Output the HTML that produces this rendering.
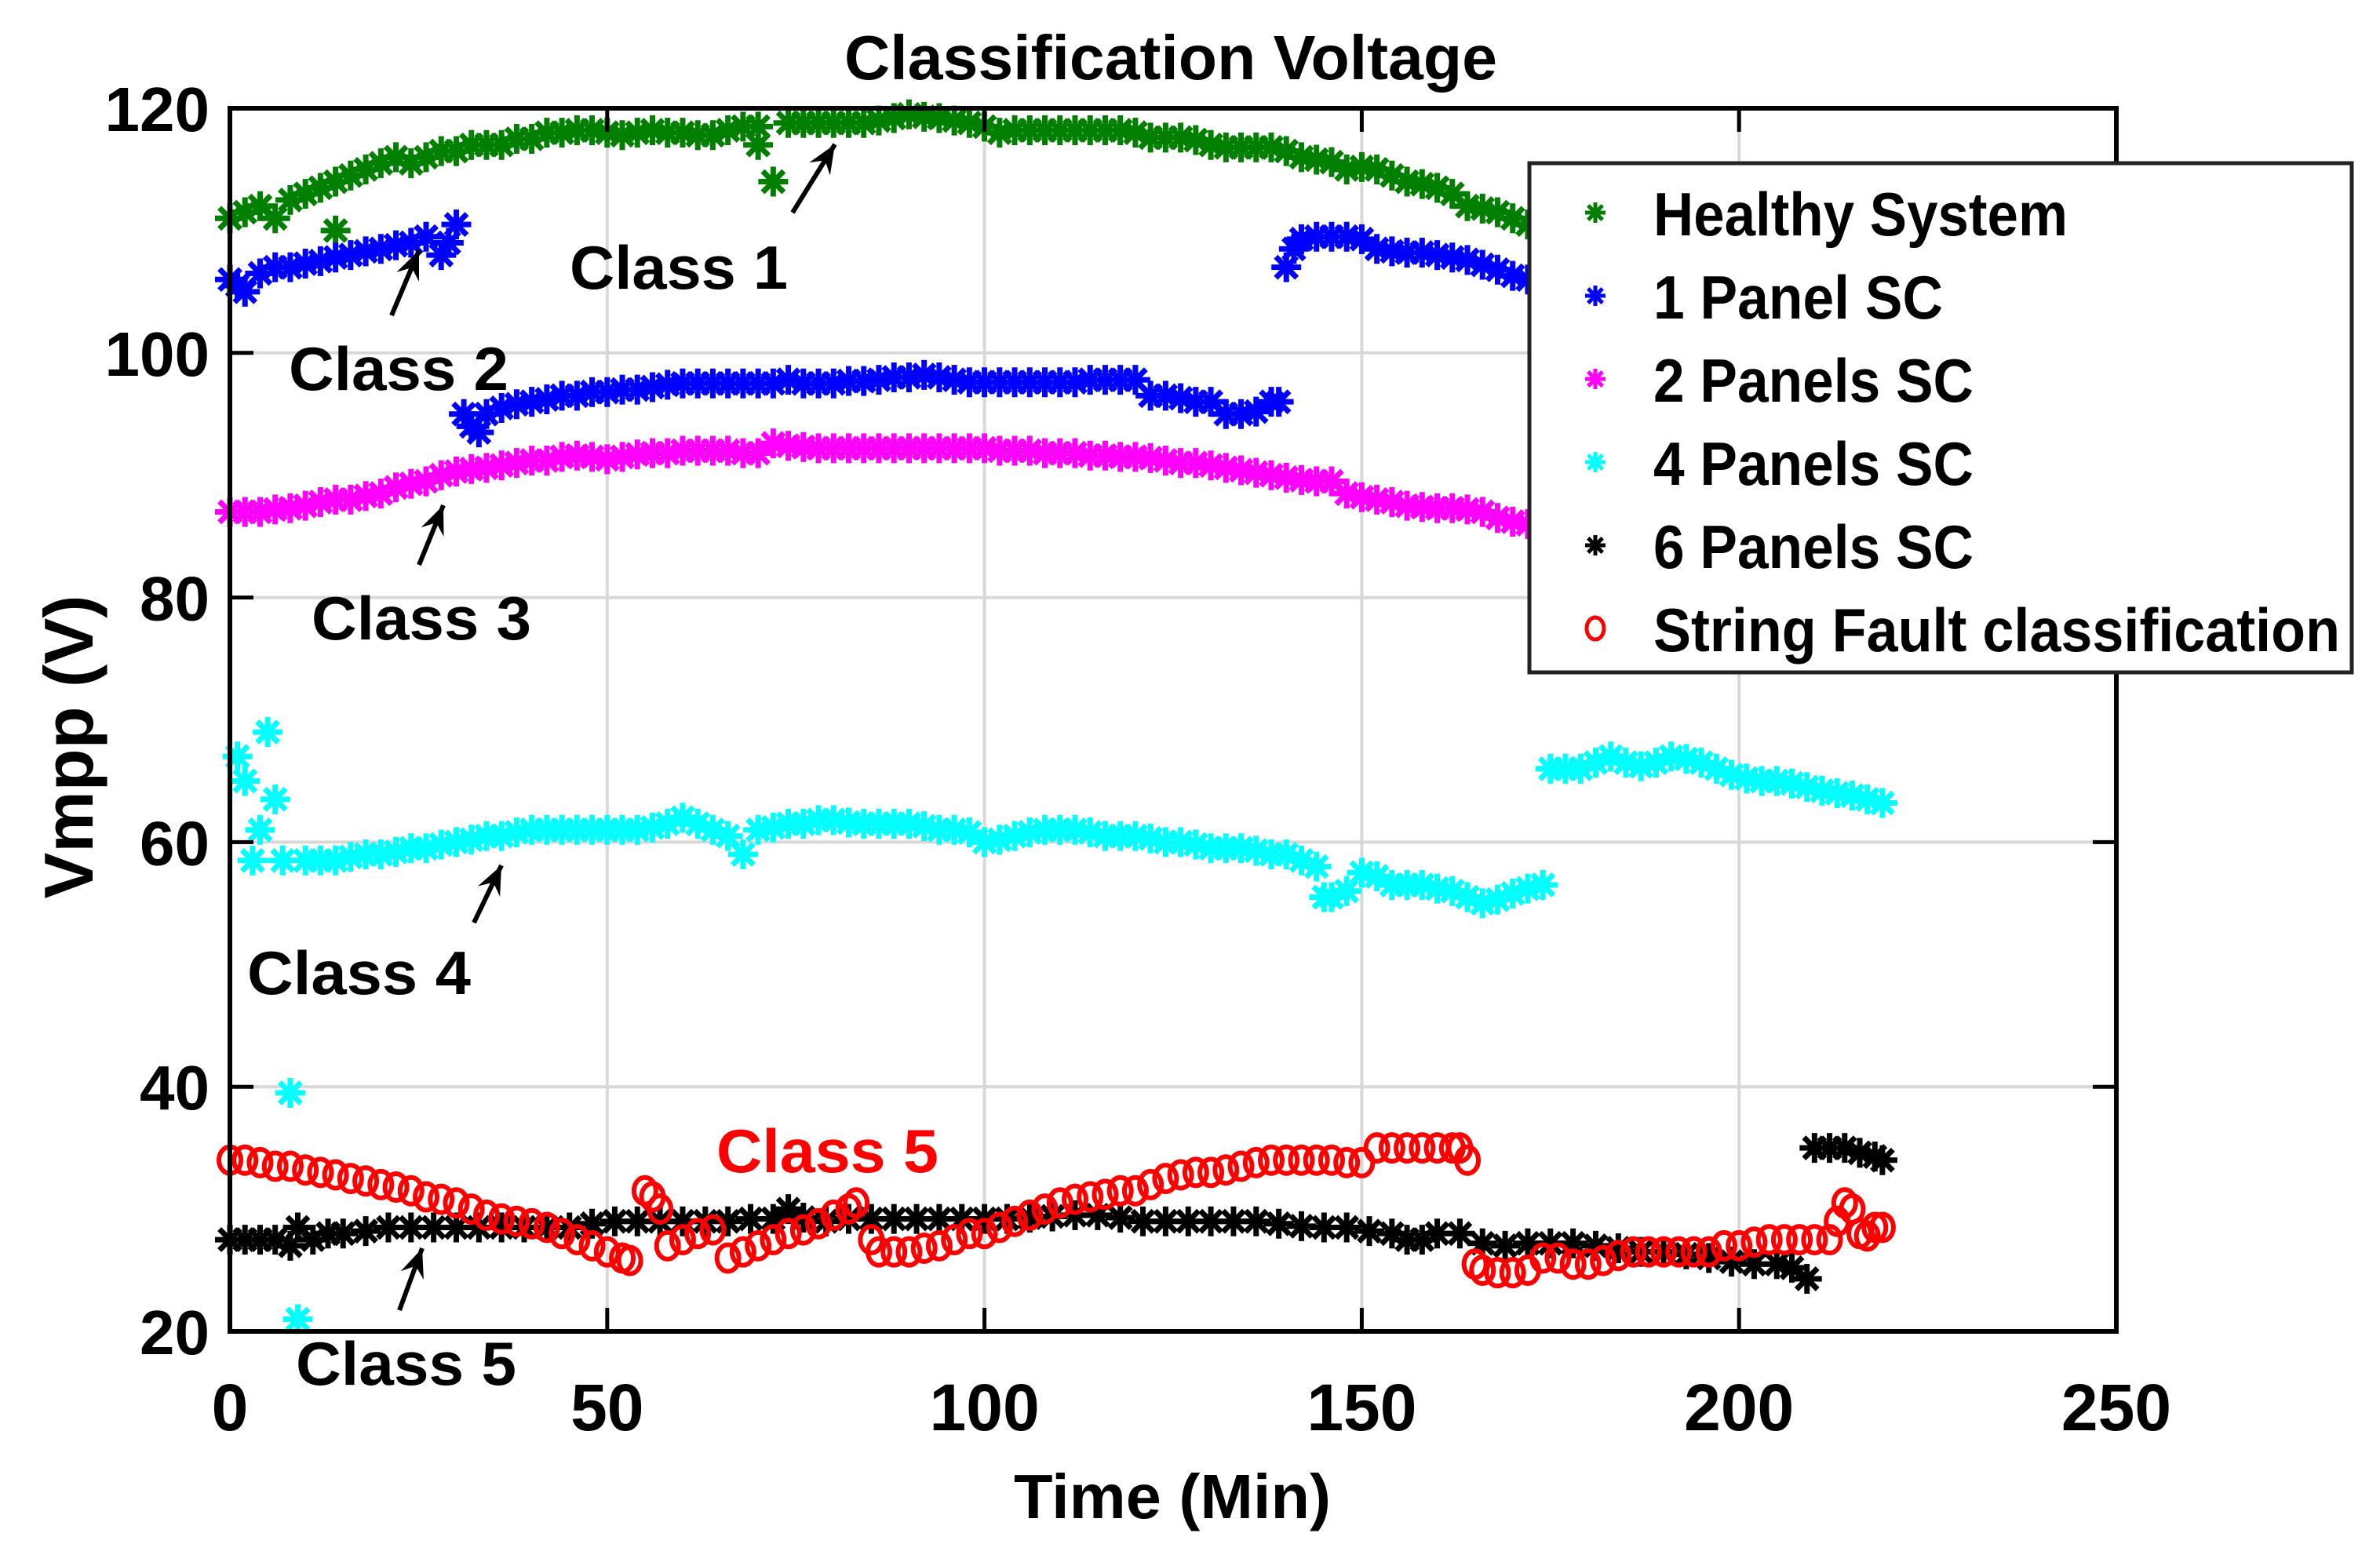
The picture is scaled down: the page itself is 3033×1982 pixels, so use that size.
<!DOCTYPE html>
<html><head><meta charset="utf-8"><style>
html,body{margin:0;padding:0;background:#fff;}
svg{display:block;font-family:"Liberation Sans",Arial,sans-serif;font-weight:bold;}
</style></head><body>
<svg id="chart" width="3033" height="1982" viewBox="0 0 3033 1982">
<g id="grid"></g>
<g id="series"></g>
<rect x="293" y="138" width="2404" height="1559" fill="none" stroke="#000" stroke-width="6"/>
<g id="ticks"></g>
<text x="1492" y="101" font-size="80" text-anchor="middle" textLength="832" lengthAdjust="spacingAndGlyphs">Classification Voltage</text>
<text x="1494" y="1935" font-size="80" text-anchor="middle" textLength="404" lengthAdjust="spacingAndGlyphs">Time (Min)</text>
<text transform="translate(118,952) rotate(-90)" font-size="88" text-anchor="middle" textLength="387" lengthAdjust="spacingAndGlyphs">Vmpp (V)</text>
<g id="annot">
<text x="726" y="368" font-size="78" textLength="278" lengthAdjust="spacingAndGlyphs">Class 1</text>
<text x="368" y="497" font-size="78" textLength="280" lengthAdjust="spacingAndGlyphs">Class 2</text>
<text x="397" y="815" font-size="78" textLength="280" lengthAdjust="spacingAndGlyphs">Class 3</text>
<text x="315" y="1267" font-size="78" textLength="285" lengthAdjust="spacingAndGlyphs">Class 4</text>
<text x="913" y="1494" font-size="78" fill="#ff0000" textLength="283" lengthAdjust="spacingAndGlyphs">Class 5</text>
<text x="377" y="1765" font-size="78" textLength="281" lengthAdjust="spacingAndGlyphs">Class 5</text>
</g>
<g id="legend">
<rect x="1949" y="208" width="1048" height="649" fill="#fff" stroke="#222" stroke-width="5"/>
</g>
</svg>
<script>
const NS='http://www.w3.org/2000/svg';
const X0=293,X1=2697,Y0=1697,Y1=138;
const xs=t=>X0+(t/250)*(X1-X0);
const ys=v=>Y0-((v-20)/100)*(Y0-Y1);
const xTicks=[0,50,100,150,200,250];
const yTicks=[20,40,60,80,100,120];

const healthyT=[0,2,4,6,8,10,12,14,16,18,20,22,24,26,28,30,32,34,36,38,40,42,44,46,48,50,52,54,56,58,60,62,64,66,68,70,74,76,78,80,82,84,86,88,90,92,94,96,98,100,102,104,106,108,110,112,114,116,118,120,122,124,126,128,130,132,134,136,138,140,142,144,146,148,150,152,154,156,158,160,162,164,166,168,170,172,174,14,70,72];
const healthyV=[111,111.5,112,111,112.5,113,113.5,114,114.5,115,115.5,116,115.5,116,116.5,116.5,117,117,117,117.5,117.5,118,118,118.2,118.2,118,117.8,118,118.2,118,118,117.8,117.8,118.2,118.5,118.5,118.8,118.8,118.8,118.8,118.8,118.8,119,119.2,119.5,119.3,119.2,119,118.8,118.5,118,118.2,118.2,118.2,118.2,118.2,118.2,118.2,118.2,118,117.6,117.6,117.6,117.4,117,116.8,116.8,116.8,116.8,116.5,116,115.8,115.6,115,115.2,115,114.5,114,113.8,113.5,113,112,111.8,111.5,111,110.5,110,110,117,114];
const panel1T=[0,1,2,4,6,8,10,12,14,16,18,20,22,24,26,28,29,30,31,32,33,34,36,38,40,42,44,46,48,50,52,54,56,58,60,62,64,66,68,70,72,74,76,78,80,82,84,86,88,90,92,94,96,98,100,102,104,106,108,110,112,114,116,118,120,122,124,126,128,130,132,134,136,138,139,140,141,142,144,146,148,150,152,154,156,158,160,162,164,166,168,170,172,174];
const panel1V=[106,105.5,105,106.5,107,107,107.3,107.5,107.8,108,108.3,108.5,108.8,109,109.5,108,109,110.5,95,94,93.5,95,95.5,95.8,96,96.2,96.5,96.5,96.8,96.8,97,97,97.2,97.4,97.5,97.5,97.5,97.5,97.5,97.5,97.5,97.8,97.5,97.5,97.5,97.7,97.7,97.8,98,98,98.2,98,97.8,97.6,97.6,97.6,97.6,97.6,97.6,97.6,97.6,97.8,97.8,97.8,97.8,96.5,96.5,96.3,96,96,95,95,95.2,96,96,107,108.5,109.3,109.5,109.5,109.5,109.3,108.5,108.3,108.2,108.2,108,107.8,107.6,107.2,106.8,106.3,106,105.5];
const panel2T=[0,2,4,6,8,10,12,14,16,18,20,22,24,26,28,30,32,34,36,38,40,42,44,46,48,50,52,54,56,58,60,62,64,66,68,70,72,74,76,78,80,82,84,86,88,90,92,94,96,98,100,102,104,106,108,110,112,114,116,118,120,122,124,126,128,130,132,134,136,138,140,142,144,146,148,150,152,154,156,158,160,162,164,166,168,170,172,174];
const panel2V=[87,87,87,87.2,87.3,87.5,87.8,88,88,88.3,88.5,89,89.3,89.5,90,90.3,90.5,90.6,90.8,91,91.2,91.2,91.5,91.6,91.5,91.3,91.5,91.7,91.8,91.8,92,92,92,92,91.8,91.8,92.6,92.4,92.3,92.2,92.2,92.2,92.2,92.2,92.2,92.2,92.2,92.2,92.2,92.2,92.2,92,92,92,91.8,91.8,91.8,91.6,91.6,91.5,91.5,91.4,91.2,91,91,90.8,90.6,90.4,90.2,90,89.8,89.6,89.5,89.5,88.5,88.2,88,87.8,87.5,87.4,87.3,87.3,87.2,87,86.5,86.2,86,86];
const panel4T=[1,2,3,4,5,6,7,8,9,10,12,14,16,18,20,22,24,26,28,30,32,34,36,38,40,42,44,46,48,50,52,54,56,58,60,62,64,66,68,70,72,74,76,78,80,82,84,86,88,90,92,94,96,98,100,102,104,106,108,110,112,114,116,118,120,122,124,126,128,130,132,134,136,138,140,142,144,145,146,148,150,152,154,156,158,160,162,164,166,168,170,172,174,175,177,179,181,183,185,187,189,191,193,195,197,199,201,203,205,207,209,211,213,215,217,219];
const panel4V=[67,65,58.5,61,69,63.5,58.5,39.5,21,58.5,58.5,58.5,58.8,59,59,59.2,59.5,59.5,59.8,60,60.2,60.5,60.5,60.8,61,61,61,61,61,61,61,61,61.2,61.5,62,61.5,61,60.5,59,61,61.2,61.5,61.5,61.8,61.8,61.6,61.5,61.5,61.5,61.5,61.3,61,61,60.8,60,60.2,60.5,60.8,61,61,61,60.8,60.5,60.5,60.5,60.3,60,60,59.8,59.5,59.5,59.5,59.3,59,59,58.5,58,55.5,55.5,56,57.5,57.2,56.5,56.5,56.5,56.2,56,55.5,55,55.3,55.8,56.2,56.5,66,66,66,66.5,67,66.5,66.2,66.5,67,66.8,66.5,66,65.5,65.2,65,65,64.8,64.5,64.2,64,63.8,63.5,63.2];
const panel6T=[0,2,4,6,8,9,11,13,15,18,21,24,27,30,33,36,39,42,45,48,51,54,57,60,63,66,69,72,74,76,79,82,85,88,91,94,97,100,103,106,109,112,115,118,121,124,127,130,133,136,139,142,145,148,151,154,156,158,160,163,166,169,172,175,178,181,184,187,190,193,196,199,202,205,207,209,210,212,214,216,218,219];
const panel6V=[27.5,27.5,27.5,27.5,27,28.5,27.5,28,28,28.2,28.5,28.5,28.5,28.5,28.5,28.5,28.5,28.5,28.5,28.8,29,29,29,29,29,29,29.2,29.2,30,29.3,29,29.2,29.2,29.2,29.2,29.2,29.2,29.2,29.2,29.3,29.4,29.5,29.5,29.3,29,29,29,29,29,29,28.8,28.6,28.5,28.5,28.2,28,27.5,27.5,28,28,27.2,27,27.2,27.2,27.2,27,26.8,26.5,26.5,26.3,26,25.7,25.5,25.5,25.2,24.3,35,35,35,34.6,34.3,34];
const stringT=[0,2,4,6,8,10,12,14,16,18,20,22,24,26,28,30,32,34,36,38,40,42,44,46,48,50,52,53,55,56,57,58,60,62,64,66,68,70,72,74,76,78,80,82,83,85,86,88,90,92,94,96,98,100,102,104,106,108,110,112,114,116,118,120,122,124,126,128,130,132,134,136,138,140,142,144,146,148,150,152,154,156,158,160,162,163,164,165,166,168,170,172,174,176,178,180,182,184,186,188,190,192,194,196,198,200,202,204,206,208,210,212,213,214,215,216,217,218,219];
const stringV=[34,34,33.8,33.5,33.5,33.2,33,32.8,32.5,32.3,32,31.8,31.5,31,30.8,30.5,30,29.5,29.2,29,28.8,28.5,28,27.5,27,26.5,26,25.8,31.5,31,30,27,27.5,28,28.3,26,26.5,27,27.5,28,28.3,28.8,29.5,30,30.5,27.5,26.5,26.5,26.5,26.8,27,27.5,28,28,28.5,29,29.5,30,30.5,30.8,31,31.2,31.5,31.5,32,32.5,32.8,33,33,33.2,33.5,33.8,34,34,34,34,34,33.8,33.8,35,35,35,35,35,35,35,34,25.5,25,24.8,24.8,25,26,26,25.5,25.5,25.8,26.2,26.5,26.5,26.5,26.5,26.5,26.5,27,27,27.3,27.5,27.5,27.5,27.5,27.5,29,30.5,30,28,27.8,28.5,28.5,28.5];

const chart=document.getElementById('chart');
const grid=document.getElementById('grid');
const ticks=document.getElementById('ticks');
const series=document.getElementById('series');
function mk(tag,attrs,parent){const e=document.createElementNS(NS,tag);for(const k in attrs)e.setAttribute(k,attrs[k]);parent.appendChild(e);return e;}

xTicks.forEach(t=>{
  const x=xs(t);
  if(t>0&&t<250){const g=mk('line',{x1:x,x2:x,y1:Y1,y2:Y0,stroke:'#d8d8d8','stroke-width':4},grid);
  
  }
  const a=mk('line',{x1:x,x2:x,y1:Y0,y2:Y0-30,stroke:'#000','stroke-width':5},ticks);
  
  
  const b=mk('line',{x1:x,x2:x,y1:Y1,y2:Y1+30,stroke:'#000','stroke-width':5},ticks);
  
  
  const l=mk('text',{x:x,y:1823,'font-size':84,'text-anchor':'middle'},ticks);
  l.textContent=String(t);
  
  
});
yTicks.forEach(v=>{
  const y=ys(v);
  if(v>20&&v<120){const g=mk('line',{x1:X0,x2:X1,y1:y,y2:y,stroke:'#d8d8d8','stroke-width':4},grid);
  
  }
  const a=mk('line',{x1:X0,x2:X0+30,y1:y,y2:y,stroke:'#000','stroke-width':5},ticks);
  
  
  const b=mk('line',{x1:X1,x2:X1-30,y1:y,y2:y,stroke:'#000','stroke-width':5},ticks);
  
  
  const l=mk('text',{x:267,y:y+29,'font-size':80,'text-anchor':'end'},ticks);
  l.textContent=String(v);
  
  
});

function star(cx,cy,r){const d=r*0.707;return `M${cx-r},${cy}H${cx+r}M${cx},${cy-r}V${cy+r}M${cx-d},${cy-d}L${cx+d},${cy+d}M${cx-d},${cy+d}L${cx+d},${cy-d}`;}
function drawStars(T,V,color,name){
  const g=mk('g',{},series);
  
  
  T.forEach((t,i)=>{
    const p=mk('path',{d:star(xs(t),ys(V[i]),19),stroke:color,'stroke-width':7,fill:'none'},g);
    
    
  });
}
function drawCircles(T,V,color,name){
  const g=mk('g',{},series);
  
  
  T.forEach((t,i)=>{
    const c=mk('ellipse',{cx:xs(t),cy:ys(V[i]),rx:14,ry:17,stroke:color,'stroke-width':6,fill:'none'},g);
    
    
  });
}
drawStars(healthyT,healthyV,'#007f00','healthy-system-series');
drawStars(panel1T,panel1V,'#0000ff','panel-1-sc-series');
drawStars(panel2T,panel2V,'#ff00ff','panels-2-sc-series');
drawStars(panel4T,panel4V,'#00ffff','panels-4-sc-series');
drawStars(panel6T,panel6V,'#000000','panels-6-sc-series');
drawCircles(stringT,stringV,'#ff0000','string-fault-series');

const annot=document.getElementById('annot');
const arrows=[[1010,271,1064,184],[499,402,534,319],[534,720,565,644],[604,1176,639,1103],[509,1670,538,1591]];
arrows.forEach(a=>{
  const [x1,y1,x2,y2]=a;
  const g=mk('g',{},annot);
  
  
  mk('line',{x1:x1,y1:y1,x2:x2,y2:y2,stroke:'#000','stroke-width':6},g);
  const ang=Math.atan2(y2-y1,x2-x1),L=40,w=0.4;
  const p1=[x2-L*Math.cos(ang-w),y2-L*Math.sin(ang-w)],p2=[x2-L*Math.cos(ang+w),y2-L*Math.sin(ang+w)];
  mk('path',{d:`M${x2},${y2}L${p1[0]},${p1[1]}L${x2-24*Math.cos(ang)},${y2-24*Math.sin(ang)}L${p2[0]},${p2[1]}Z`,fill:'#000'},g);
});

const legend=document.getElementById('legend');
const legNames=['Healthy System','1 Panel SC','2 Panels SC','4 Panels SC','6 Panels SC','String Fault classification'];
const legColors=['#007f00','#0000ff','#ff00ff','#00ffff','#000000','#ff0000'];
const legWidths=[528,369,408,408,408,875];
legNames.forEach((n,i)=>{
  const base=300+i*106;
  const g=mk('g',{},legend);
  
  
  if(i<5) mk('path',{d:star(2033,base-29,13),stroke:legColors[i],'stroke-width':5,fill:'none'},g);
  else mk('ellipse',{cx:2033,cy:base-29,rx:11,ry:14,stroke:legColors[i],'stroke-width':5,fill:'none'},g);
  const t=mk('text',{x:2107,y:base,'font-size':78,textLength:legWidths[i],lengthAdjust:'spacingAndGlyphs'},g);
  t.textContent=n;
});
</script>
</body></html>
